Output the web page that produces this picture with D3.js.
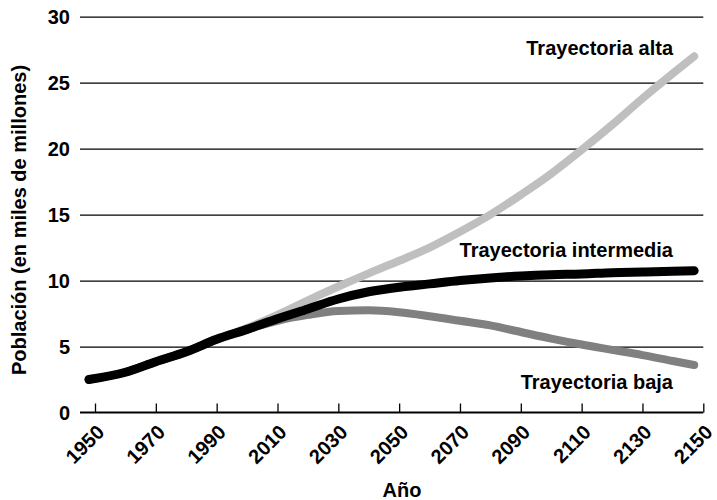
<!DOCTYPE html>
<html>
<head>
<meta charset="utf-8">
<script src="https://cdn.jsdelivr.net/npm/d3@7/dist/d3.min.js"></script>
<style>
  html, body { margin: 0; padding: 0; background: #fff; }
  svg { display: block; }
  text { font-family: "Liberation Sans", Arial, sans-serif; font-weight: bold; fill: #000; }
</style>
</head>
<body>
<svg id="chart" width="717" height="500"></svg>
<script>
// ---- Data ----
const years = [1948, 1960, 1970, 1980, 1990, 2000, 2010, 2020, 2030, 2040, 2050, 2060, 2070, 2080, 2090, 2100, 2110, 2120, 2130, 2140, 2147];
const alta =       [2.5, 3.05, 3.85, 4.6, 5.55, 6.4, 7.4, 8.5, 9.55, 10.55, 11.5, 12.5, 13.7, 15.0, 16.5, 18.1, 19.9, 21.8, 23.8, 25.7, 27.0];
const intermedia = [2.5, 3.05, 3.85, 4.6, 5.55, 6.3, 7.1, 7.85, 8.6, 9.15, 9.5, 9.75, 10.0, 10.2, 10.35, 10.45, 10.5, 10.6, 10.65, 10.7, 10.75];
const baja =       [2.5, 3.05, 3.85, 4.6, 5.55, 6.3, 6.95, 7.4, 7.7, 7.75, 7.6, 7.3, 6.95, 6.6, 6.1, 5.6, 5.15, 4.75, 4.35, 3.9, 3.6];
const xTicks = [1950, 1970, 1990, 2010, 2030, 2050, 2070, 2090, 2110, 2130, 2150];
const yTicks = [0, 5, 10, 15, 20, 25, 30];
const seriesNames = ["Trayectoria alta", "Trayectoria intermedia", "Trayectoria baja"];
const yTitle = "Población (en miles de millones)";
const xTitle = "Año";

const FS = "20px";
const svg = d3.select("#chart");
const x = d3.scaleLinear().domain([1950, 2150]).range([95, 703.3]);
const y = d3.scaleLinear().domain([0, 30]).range([412.5, 16.7]);
const gridLeft = 80;

// gridlines + y labels
const yAxis = d3.axisLeft(y).tickValues(yTicks).tickSize(0).tickPadding(0).tickFormat(d3.format("d"));
const gy = svg.append("g").attr("transform", `translate(${gridLeft},0)`).call(yAxis);
gy.select(".domain").remove();
gy.selectAll(".tick text")
  .attr("x", -10).attr("dy", "0.35em")
  .style("font-size", FS)
  .style("font-family", "Liberation Sans, Arial, sans-serif").style("font-weight", "bold").attr("fill", "#000");
gy.selectAll(".tick").filter(d => d !== 0).append("line")
  .attr("x1", 0).attr("x2", x(2150) - gridLeft)
  .attr("stroke", "#000").attr("stroke-width", 1.3);

// x axis
const xAxis = d3.axisBottom(x).tickValues(xTicks).tickSize(0).tickFormat(d3.format("d"));
const gx = svg.append("g").attr("transform", `translate(0,${y(0)})`).call(xAxis);
gx.select(".domain").remove();
gx.append("line").attr("x1", gridLeft).attr("x2", x(2150)).attr("stroke", "#000").attr("stroke-width", 2);
gx.selectAll(".tick").append("line").attr("y1", 0).attr("y2", -9).attr("stroke", "#000").attr("stroke-width", 1.3);
gx.selectAll(".tick text")
  .attr("y", 0).attr("dy", 0)
  .attr("text-anchor", "end")
  .attr("transform", "translate(10,21) rotate(-45)")
  .style("font-size", FS)
  .style("font-family", "Liberation Sans, Arial, sans-serif").style("font-weight", "bold").attr("fill", "#000");

// lines
const series = [
  { name: seriesNames[0], values: alta, color: "#bfbfbf", width: 8 },
  { name: seriesNames[2], values: baja, color: "#808080", width: 8 },
  { name: seriesNames[1], values: intermedia, color: "#000000", width: 9 }
];
const line = d3.line().x(d => x(d[0])).y(d => y(d[1])).curve(d3.curveMonotoneX);
series.forEach(s => {
  svg.append("path")
    .datum(years.map((yr, i) => [yr, s.values[i]]))
    .attr("d", line)
    .attr("fill", "none")
    .attr("stroke", s.color)
    .attr("stroke-width", s.width)
    .attr("stroke-linecap", "round")
    .attr("stroke-linejoin", "round");
});

// series labels
const labelPos = [
  { t: seriesNames[0], x: 673, y: 55 },
  { t: seriesNames[1], x: 673, y: 257 },
  { t: seriesNames[2], x: 673, y: 389 }
];
svg.selectAll(".slabel").data(labelPos).enter().append("text")
  .attr("class", "slabel")
  .attr("x", d => d.x).attr("y", d => d.y)
  .attr("text-anchor", "end")
  .style("font-size", FS)
  .text(d => d.t);

// axis titles
svg.append("text")
  .attr("transform", "translate(26,220) rotate(-90)")
  .attr("text-anchor", "middle")
  .style("font-size", FS)
  .text(yTitle);
svg.append("text")
  .attr("x", 402).attr("y", 497)
  .attr("text-anchor", "middle")
  .style("font-size", FS)
  .text(xTitle);
</script>
</body>
</html>
